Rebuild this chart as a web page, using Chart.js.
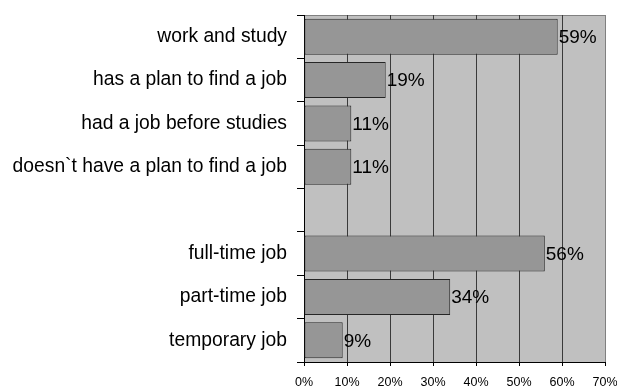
<!DOCTYPE html>
<html>
<head>
<meta charset="utf-8">
<script src="https://cdn.jsdelivr.net/npm/chart.js@4/dist/chart.umd.min.js"></script>
<style>
  html, body { margin: 0; padding: 0; background: #ffffff; }
  #wrap { width: 617px; height: 386px; }
</style>
</head>
<body>
<div id="wrap"><canvas id="c" width="617" height="386"></canvas></div>
<script>
// Survey answers, in percent; the empty slot separates the two groups
const categories = [
  'work and study',
  'has a plan to find a job',
  'had a job before studies',
  'doesn`t have a plan to find a job',
  '',
  'full-time job',
  'part-time job',
  'temporary job'
];
const shares = [59, 19, 11, 11, null, 56, 34, 9];
const axisTicks = [0, 10, 20, 30, 40, 50, 60, 70];

const FONT = "'Liberation Sans', Arial, sans-serif";

// grey plot area with a light frame on the top and right
const plotBackground = {
  id: 'plotBackground',
  beforeDraw(chart) {
    const { ctx, chartArea: a } = chart;
    ctx.save();
    ctx.fillStyle = '#C0C0C0';
    ctx.fillRect(a.left, a.top, a.right - a.left, a.bottom - a.top);
    ctx.strokeStyle = '#808080';
    ctx.lineWidth = 1;
    ctx.beginPath();
    ctx.moveTo(a.left, Math.round(a.top) + 0.5);
    ctx.lineTo(Math.round(a.right) + 0.5, Math.round(a.top) + 0.5);
    ctx.lineTo(Math.round(a.right) + 0.5, a.bottom);
    ctx.stroke();
    ctx.restore();
  }
};

// value written just past the end of each bar
const valueLabels = {
  id: 'valueLabels',
  afterDatasetsDraw(chart) {
    const { ctx } = chart;
    const meta = chart.getDatasetMeta(0);
    const data = chart.data.datasets[0].data;
    ctx.save();
    ctx.font = '19px ' + FONT;
    ctx.fillStyle = '#000000';
    ctx.textAlign = 'left';
    ctx.textBaseline = 'middle';
    meta.data.forEach((bar, i) => {
      const v = data[i];
      if (v === null || v === undefined) return;
      ctx.fillText(v + '%', bar.x + 1, bar.y + 1);
    });
    ctx.restore();
  }
};

new Chart(document.getElementById('c'), {
  type: 'bar',
  data: {
    labels: categories,
    datasets: [{
      data: shares,
      backgroundColor: '#969696',
      borderColor: '#262626',
      borderWidth: 1,
      borderSkipped: false,
      barPercentage: 0.83,
      categoryPercentage: 1
    }]
  },
  options: {
    indexAxis: 'y',
    responsive: false,
    animation: false,
    devicePixelRatio: 1,
    layout: { padding: { top: 15, right: 12, left: 0, bottom: 0 } },
    plugins: {
      legend: { display: false },
      tooltip: { enabled: false }
    },
    scales: {
      x: {
        type: 'linear',
        min: 0,
        max: 70,
        afterBuildTicks(scale) {
          scale.ticks = axisTicks.map(v => ({ value: v }));
        },
        afterFit(scale) {
          scale.height = 24;
          scale.paddingLeft = 0;
          scale.paddingRight = 0;
        },
        border: { color: '#000000', width: 1 },
        grid: {
          color: ctx => (ctx.tick && ctx.tick.value === 70) ? '#808080' : '#3a3a3a',
          tickColor: '#000000',
          tickLength: 4,
          lineWidth: 1
        },
        ticks: {
          padding: 9,
          color: '#000000',
          font: { family: FONT, size: 12.5 },
          maxRotation: 0,
          callback: v => v + '%'
        }
      },
      y: {
        afterFit(scale) {
          scale.width = 304;
          scale.paddingTop = 0;
          scale.paddingBottom = 0;
        },
        border: { color: '#000000', width: 1 },
        grid: {
          offset: true,
          drawOnChartArea: false,
          tickColor: '#000000',
          tickLength: 7
        },
        ticks: {
          padding: 10,
          autoSkip: false,
          color: '#000000',
          font: { family: FONT, size: 19.3 }
        }
      }
    }
  },
  plugins: [plotBackground, valueLabels]
});
</script>
</body>
</html>
